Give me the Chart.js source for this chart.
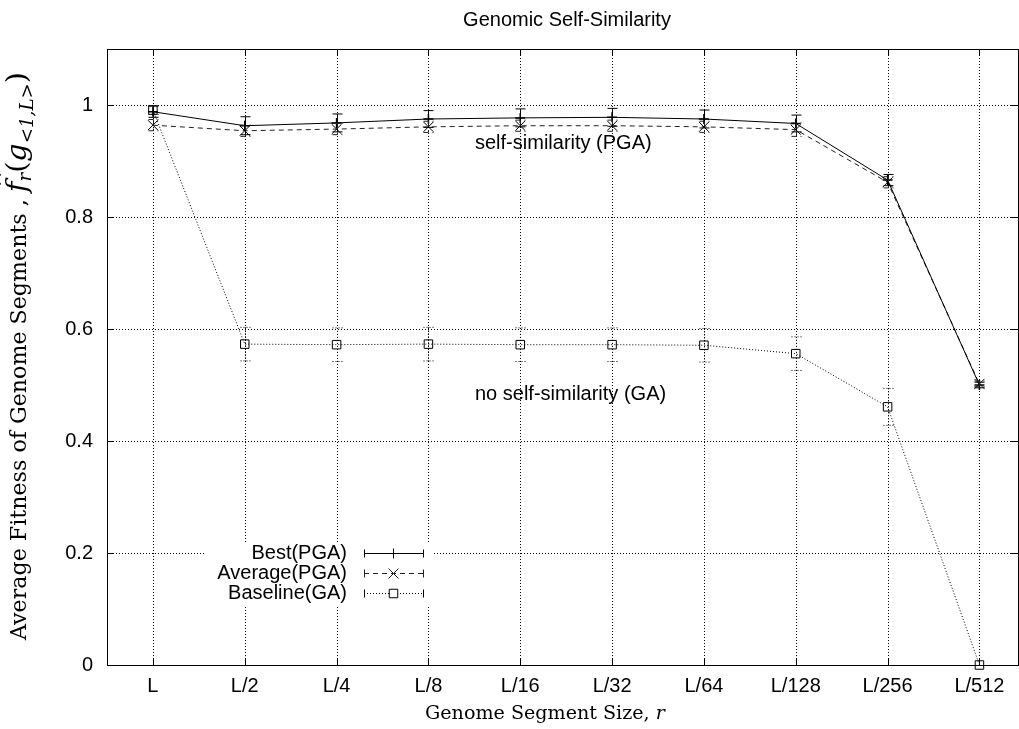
<!DOCTYPE html>
<html>
<head>
<meta charset="utf-8">
<script src="https://cdn.jsdelivr.net/npm/chart.js@4.4.0/dist/chart.umd.min.js"></script>
<style>
  html, body { margin: 0; padding: 0; background: #fff; overflow: hidden; }
  #wrap { width: 1026px; height: 729px; position: relative; }
</style>
</head>
<body>
<div id="wrap"><canvas id="fitnessGraph"></canvas></div>
<script>
// genome segment sizes on the x axis
const segmentLabels = ['L', 'L/2', 'L/4', 'L/8', 'L/16', 'L/32', 'L/64', 'L/128', 'L/256', 'L/512'];

// Best(PGA)
const bestPGA = [0.988, 0.963, 0.968, 0.975, 0.977, 0.978, 0.975, 0.967, 0.866, 0.500];
const bestErr = [0.010, 0.016, 0.016, 0.015, 0.016, 0.016, 0.016, 0.015, 0.010, 0.005];

// Average(PGA)
const avgPGA = [0.964, 0.954, 0.957, 0.961, 0.963, 0.963, 0.961, 0.956, 0.862, 0.502];
const avgErr = [0.010, 0.010, 0.010, 0.010, 0.010, 0.010, 0.010, 0.012, 0.010, 0.005];

// Baseline(GA)
const baseGA = [0.991, 0.573, 0.572, 0.573, 0.572, 0.572, 0.571, 0.556, 0.461, 0.000];
const baseErr = [0.008, 0.030, 0.030, 0.030, 0.030, 0.030, 0.030, 0.030, 0.033, 0.000];

const yTickValues = [0, 0.2, 0.4, 0.6, 0.8, 1];

const sansFont = '"Liberation Sans", Arial, sans-serif';
const serifFont = '"DejaVu Serif", "Liberation Serif", serif';

function toPoints(values) {
    return values.map((v, i) => ({ x: i, y: v }));
}

// draws text pieces one after another, scaled so the whole run is `target` px long
function drawRun(ctx, parts, cx, cy, target) {
    let total = 0;
    parts.forEach(p => { ctx.font = p.style + ' ' + p.size + 'px ' + serifFont; total += ctx.measureText(p.t).width; });
    const k = target / total;
    let x = cx - target / 2;
    ctx.textAlign = 'left';
    ctx.textBaseline = 'alphabetic';
    parts.forEach(p => {
        ctx.font = p.style + ' ' + (p.size * k).toFixed(2) + 'px ' + serifFont;
        const w = ctx.measureText(p.t).width;
        ctx.fillText(p.t, x, cy + (p.dy || 0) * k);
        if (p.hat) {
            ctx.font = (14 * k).toFixed(2) + 'px ' + serifFont;
            ctx.fillText('^', x + 4 * k, cy - 12 * k);
        }
        x += w;
    });
}

// vertical error bars drawn through the chart scales
const errorBarPlugin = {
    id: 'errorBars',
    afterDatasetsDraw(chart) {
        const ctx = chart.ctx;
        const xs = chart.scales.x, ys = chart.scales.y;
        chart.data.datasets.forEach(ds => {
            if (!ds.errors) return;
            ctx.save();
            ctx.strokeStyle = ds.borderColor;
            ctx.lineWidth = 1;
            ctx.setLineDash(ds.borderDash || []);
            ds.data.forEach((p, i) => {
                const e = ds.errors[i];
                if (!e) return;
                const px = Math.round(xs.getPixelForValue(p.x)) + 0.5;
                const top = ys.getPixelForValue(p.y + e);
                const bot = ys.getPixelForValue(p.y - e);
                ctx.beginPath();
                ctx.moveTo(px, top); ctx.lineTo(px, bot);
                ctx.moveTo(px - 5, top); ctx.lineTo(px + 5, top);
                ctx.moveTo(px - 5, bot); ctx.lineTo(px + 5, bot);
                ctx.stroke();
            });
            ctx.restore();
        });
    }
};

// grid, frame, tick marks, titles, notes and the gnuplot style legend
const decorPlugin = {
    id: 'decor',
    beforeDatasetsDraw(chart) {
        const ctx = chart.ctx;
        const a = chart.chartArea;
        const xs = chart.scales.x, ys = chart.scales.y;
        ctx.save();
        ctx.strokeStyle = '#000';
        ctx.lineWidth = 1;
        ctx.setLineDash([1, 2]);
        yTickValues.forEach(v => {
            const py = Math.round(ys.getPixelForValue(v)) + 0.5;
            ctx.beginPath();
            ctx.moveTo(a.left, py); ctx.lineTo(a.right, py);
            ctx.stroke();
        });
        segmentLabels.forEach((l, i) => {
            const px = Math.round(xs.getPixelForValue(i)) + 0.5;
            ctx.beginPath();
            ctx.moveTo(px, a.top); ctx.lineTo(px, a.bottom);
            ctx.stroke();
        });
        // legend box hides the grid behind it
        ctx.fillStyle = '#fff';
        ctx.fillRect(205, 542, 228, 63);
        ctx.restore();
    },
    afterDraw(chart) {
        const ctx = chart.ctx;
        const a = chart.chartArea;
        const xs = chart.scales.x, ys = chart.scales.y;
        ctx.save();
        ctx.strokeStyle = '#000';
        ctx.lineWidth = 1;
        ctx.setLineDash([]);
        ctx.strokeRect(Math.round(a.left) + 0.5, Math.round(a.top) + 0.5,
            Math.round(a.right - a.left), Math.round(a.bottom - a.top));
        ctx.beginPath();
        yTickValues.forEach(v => {
            const py = Math.round(ys.getPixelForValue(v)) + 0.5;
            ctx.moveTo(a.left, py); ctx.lineTo(a.left + 7, py);
            ctx.moveTo(a.right, py); ctx.lineTo(a.right - 7, py);
        });
        segmentLabels.forEach((l, i) => {
            const px = Math.round(xs.getPixelForValue(i)) + 0.5;
            ctx.moveTo(px, a.bottom); ctx.lineTo(px, a.bottom - 7);
            ctx.moveTo(px, a.top); ctx.lineTo(px, a.top + 7);
        });
        ctx.stroke();

        // chart title
        ctx.fillStyle = '#000';
        ctx.font = '20px ' + sansFont;
        ctx.textAlign = 'center';
        ctx.textBaseline = 'middle';
        ctx.fillText('Genomic Self-Similarity', 567, 20);

        // notes inside the plot
        ctx.textAlign = 'left';
        ctx.fillText('self-similarity (PGA)', 475, 143);
        ctx.fillText('no self-similarity (GA)', 475, 394);

        // x axis title
        drawRun(ctx, [
            { t: 'Genome Segment Size, ', style: 'normal', size: 17 },
            { t: 'r', style: 'italic', size: 17 }
        ], 545, 719, 240);

        // y axis title (rotated, with the math part)
        ctx.save();
        ctx.translate(26, 356);
        ctx.rotate(-Math.PI / 2);
        drawRun(ctx, [
            { t: 'Average Fitness of Genome Segments , ', style: 'normal', size: 17 },
            { t: 'f', style: 'italic', size: 22, hat: true },
            { t: 'r', style: 'italic', size: 14, dy: 4 },
            { t: '(', style: 'normal', size: 22 },
            { t: 'g', style: 'italic', size: 22 },
            { t: '<1,L>', style: 'italic', size: 14, dy: 5 },
            { t: ')', style: 'normal', size: 22 }
        ], 0, 0, 568);
        ctx.restore();

        // legend
        const rows = [
            { name: 'Best(PGA)', y: 553, dash: [], color: '#000', style: 'cross', r: 5 },
            { name: 'Average(PGA)', y: 573, dash: [5, 4], color: '#222', style: 'crossRot', r: 7 },
            { name: 'Baseline(GA)', y: 593, dash: [1, 2], color: '#000', style: 'rect', r: 6 }
        ];
        ctx.font = '20px ' + sansFont;
        ctx.textBaseline = 'middle';
        rows.forEach(row => {
            ctx.fillStyle = '#000';
            ctx.textAlign = 'right';
            ctx.fillText(row.name, 347, row.y);
            ctx.strokeStyle = row.color;
            ctx.setLineDash(row.dash);
            ctx.beginPath();
            const ly = row.y + 0.5;
            ctx.moveTo(364, ly); ctx.lineTo(423, ly);
            ctx.stroke();
            ctx.setLineDash([]);
            ctx.beginPath();
            ctx.moveTo(364.5, ly - 4); ctx.lineTo(364.5, ly + 4);
            ctx.moveTo(423.5, ly - 4); ctx.lineTo(423.5, ly + 4);
            ctx.stroke();
            ctx.fillStyle = '#fff';
            if (row.style === 'rect') ctx.fillRect(389, ly - 4, 8, 8);
            Chart.helpers.drawPoint(ctx, { pointStyle: row.style, radius: row.r, borderWidth: 1 }, 393.5, ly);
        });
        ctx.restore();
    }
};

new Chart(document.getElementById('fitnessGraph'), {
    type: 'line',
    data: {
        datasets: [{
            label: 'Best(PGA)',
            data: toPoints(bestPGA),
            errors: bestErr,
            borderColor: '#000',
            borderWidth: 1,
            borderDash: [],
            pointStyle: 'cross',
            pointRadius: 5,
            pointBorderColor: '#000',
            pointBorderWidth: 1.5,
            tension: 0,
            clip: false
        }, {
            label: 'Average(PGA)',
            data: toPoints(avgPGA),
            errors: avgErr,
            borderColor: '#222',
            borderWidth: 1,
            borderDash: [5, 4],
            pointStyle: 'crossRot',
            pointRadius: 7,
            pointBorderColor: '#000',
            pointBorderWidth: 1,
            tension: 0,
            clip: false
        }, {
            label: 'Baseline(GA)',
            data: toPoints(baseGA),
            errors: baseErr,
            borderColor: '#000',
            borderWidth: 1,
            borderDash: [1, 2],
            pointStyle: 'rect',
            pointRadius: 6,
            pointBorderColor: '#000',
            pointBackgroundColor: 'rgba(255,255,255,0)',
            pointBorderWidth: 1,
            tension: 0,
            clip: false
        }]
    },
    options: {
        responsive: true,
        maintainAspectRatio: false,
        animation: false,
        events: [],
        layout: { padding: { left: 0, top: 49, right: 2, bottom: 0 } },
        plugins: {
            legend: { display: false },
            title: { display: false },
            tooltip: { enabled: false }
        },
        scales: {
            x: {
                type: 'linear',
                min: -0.5,
                max: 9.42,
                afterBuildTicks: scale => {
                    scale.ticks = segmentLabels.map((l, i) => ({ value: i }));
                },
                afterFit: scale => {
                    scale.height = 64;
                    scale.paddingLeft = 0;
                    scale.paddingRight = 0;
                },
                ticks: {
                    callback: value => segmentLabels[value],
                    color: '#000',
                    font: { family: sansFont, size: 20 },
                    padding: 9,
                    maxRotation: 0,
                    autoSkip: false
                },
                grid: { display: false, drawTicks: false },
                border: { display: false }
            },
            y: {
                min: 0,
                max: 1.1,
                afterBuildTicks: scale => {
                    scale.ticks = yTickValues.map(v => ({ value: v }));
                },
                afterFit: scale => {
                    scale.width = 107;
                    scale.paddingTop = 0;
                    scale.paddingBottom = 0;
                },
                ticks: {
                    callback: value => String(value),
                    color: '#000',
                    font: { family: sansFont, size: 20 },
                    padding: 14
                },
                grid: { display: false, drawTicks: false },
                border: { display: false }
            }
        }
    },
    plugins: [errorBarPlugin, decorPlugin]
});
</script>
</body>
</html>
